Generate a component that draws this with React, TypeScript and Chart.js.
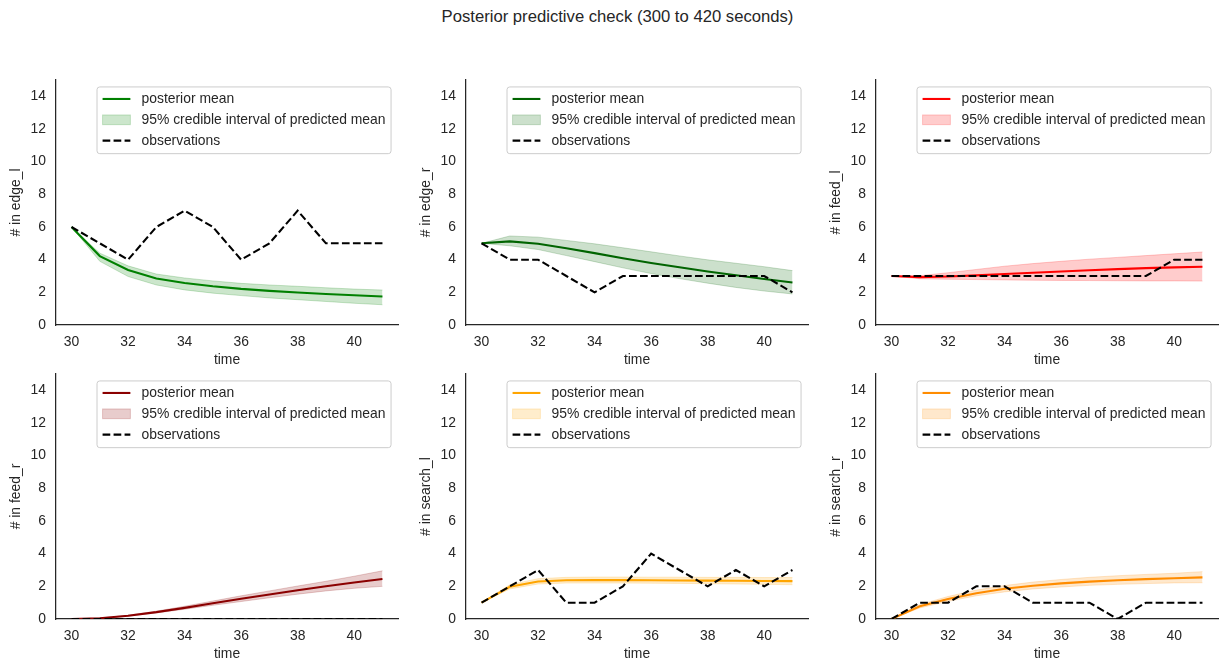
import React, { useEffect, useRef } from "react";
import { Chart, registerables } from "chart.js";
Chart.register(...registerables);

const TITLE = "Posterior predictive check (300 to 420 seconds)";
const TIME = [30, 31, 32, 33, 34, 35, 36, 37, 38, 39, 40, 41];
const X_TICKS = [30, 32, 34, 36, 38, 40];
const Y_TICKS = [0, 2, 4, 6, 8, 10, 12, 14];
const LEGEND_LABELS = ["posterior mean", "95% credible interval of predicted mean", "observations"];

const EDGE_L_OBS = [6, 5, 4, 6, 7, 6, 4, 5, 7, 5, 5, 5];
const EDGE_L_MEAN = [6, 4.22, 3.37, 2.85, 2.57, 2.37, 2.21, 2.09, 1.99, 1.9, 1.82, 1.74];
const EDGE_L_LOW = [6, 3.9, 2.97, 2.45, 2.15, 1.95, 1.8, 1.66, 1.55, 1.44, 1.33, 1.24];
const EDGE_L_HIGH = [6, 4.4, 3.62, 3.12, 2.88, 2.7, 2.55, 2.45, 2.37, 2.28, 2.2, 2.14];

const EDGE_R_OBS = [5, 4, 4, 3, 2, 3, 3, 3, 3, 3, 3, 2];
const EDGE_R_MEAN = [5, 5.12, 4.98, 4.7, 4.4, 4.09, 3.8, 3.53, 3.28, 3.05, 2.82, 2.6];
const EDGE_R_LOW = [5, 4.85, 4.62, 4.25, 3.88, 3.5, 3.15, 2.84, 2.56, 2.3, 2.08, 1.9];
const EDGE_R_HIGH = [5, 5.45, 5.38, 5.18, 4.97, 4.73, 4.48, 4.23, 3.99, 3.78, 3.57, 3.33];

const FEED_L_OBS = [3, 3, 3, 3, 3, 3, 3, 3, 3, 3, 4, 4];
const FEED_L_MEAN = [3, 2.93, 2.97, 3.04, 3.12, 3.2, 3.28, 3.35, 3.42, 3.48, 3.53, 3.57];
const FEED_L_LOW = [3, 2.83, 2.8, 2.78, 2.76, 2.74, 2.73, 2.72, 2.71, 2.7, 2.7, 2.69];
const FEED_L_HIGH = [3, 3.02, 3.2, 3.4, 3.6, 3.76, 3.9, 4.03, 4.14, 4.25, 4.36, 4.47];

const FEED_R_OBS = [0, 0, 0, 0, 0, 0, 0, 0, 0, 0, 0, 0];
const FEED_R_MEAN = [0, 0.05, 0.2, 0.42, 0.68, 0.96, 1.24, 1.5, 1.76, 2.0, 2.23, 2.45];
const FEED_R_LOW = [0, 0.04, 0.17, 0.37, 0.6, 0.84, 1.07, 1.3, 1.52, 1.72, 1.88, 2.0];
const FEED_R_HIGH = [0, 0.06, 0.23, 0.48, 0.78, 1.1, 1.42, 1.72, 2.02, 2.31, 2.62, 2.95];

const SEARCH_L_OBS = [1, 2, 3, 1, 1, 2, 4, 3, 2, 3, 2, 3];
const SEARCH_L_MEAN = [1, 1.97, 2.3, 2.37, 2.38, 2.38, 2.37, 2.36, 2.35, 2.34, 2.33, 2.32];
const SEARCH_L_LOW = [1, 1.84, 2.14, 2.2, 2.2, 2.2, 2.19, 2.18, 2.16, 2.14, 2.12, 2.1];
const SEARCH_L_HIGH = [1, 2.1, 2.47, 2.55, 2.57, 2.57, 2.56, 2.56, 2.55, 2.55, 2.54, 2.54];

const SEARCH_R_OBS = [0, 1, 1, 2, 2, 1, 1, 1, 0, 1, 1, 1];
const SEARCH_R_MEAN = [0, 0.78, 1.22, 1.58, 1.85, 2.04, 2.18, 2.29, 2.37, 2.44, 2.5, 2.55];
const SEARCH_R_LOW = [0, 0.68, 1.08, 1.42, 1.66, 1.84, 1.96, 2.06, 2.12, 2.17, 2.21, 2.22];
const SEARCH_R_HIGH = [0, 0.88, 1.38, 1.77, 2.05, 2.26, 2.42, 2.55, 2.65, 2.73, 2.8, 2.9];

type Panel = {
  label: string;
  color: [number, number, number];
  obs: number[];
  mean: number[];
  low: number[];
  high: number[];
};

const PANELS: Panel[] = [
  { label: "# in edge_l", color: [0, 128, 0], obs: EDGE_L_OBS, mean: EDGE_L_MEAN, low: EDGE_L_LOW, high: EDGE_L_HIGH },
  { label: "# in edge_r", color: [0, 100, 0], obs: EDGE_R_OBS, mean: EDGE_R_MEAN, low: EDGE_R_LOW, high: EDGE_R_HIGH },
  { label: "# in feed_l", color: [255, 0, 0], obs: FEED_L_OBS, mean: FEED_L_MEAN, low: FEED_L_LOW, high: FEED_L_HIGH },
  { label: "# in feed_r", color: [139, 0, 0], obs: FEED_R_OBS, mean: FEED_R_MEAN, low: FEED_R_LOW, high: FEED_R_HIGH },
  { label: "# in search_l", color: [255, 165, 0], obs: SEARCH_L_OBS, mean: SEARCH_L_MEAN, low: SEARCH_L_LOW, high: SEARCH_L_HIGH },
  { label: "# in search_r", color: [255, 140, 0], obs: SEARCH_R_OBS, mean: SEARCH_R_MEAN, low: SEARCH_R_LOW, high: SEARCH_R_HIGH },
];

const FONT_FAMILY = '"Liberation Sans", Arial, sans-serif';
const FS = 13.9;
const TEXT = "#262626";
const COL_X = [56, 466, 876];
const ROW_Y = [80, 374];
const AX_W = 342;
const AX_H = 245;
const Y_AXIS_W = 56;
const X_AXIS_H = 45;
const PAD_T = 10;
const PAD_R = 10;

const rgba = (c: number[], a: number) => `rgba(${c[0]},${c[1]},${c[2]},${a})`;
const pts = (ys: number[]) => TIME.map((t, i) => ({ x: t, y: ys[i] }));

const legendPlugin = {
  id: "mplLegend",
  afterDraw(chart: any, _args: any, opts: any) {
    const ctx = chart.ctx as CanvasRenderingContext2D;
    const area = chart.chartArea;
    const color = opts.color as number[];
    ctx.save();
    ctx.font = `${FS}px ${FONT_FAMILY}`;
    const textW = Math.max(...LEGEND_LABELS.map((l) => ctx.measureText(l).width));
    const pad = 0.4 * FS;
    const hl = 2 * FS;
    const htp = 0.8 * FS;
    const rowH = FS;
    const ls = 0.5 * FS;
    const w = pad + hl + htp + textW + pad;
    const h = 2 * pad + 3 * rowH + 2 * ls;
    const x0 = area.right - 0.5 * FS - w;
    const y0 = area.top + 0.5 * FS;
    const r = 0.2 * FS;
    ctx.beginPath();
    ctx.moveTo(x0 + r, y0);
    ctx.lineTo(x0 + w - r, y0);
    ctx.arcTo(x0 + w, y0, x0 + w, y0 + r, r);
    ctx.lineTo(x0 + w, y0 + h - r);
    ctx.arcTo(x0 + w, y0 + h, x0 + w - r, y0 + h, r);
    ctx.lineTo(x0 + r, y0 + h);
    ctx.arcTo(x0, y0 + h, x0, y0 + h - r, r);
    ctx.lineTo(x0, y0 + r);
    ctx.arcTo(x0, y0, x0 + r, y0, r);
    ctx.closePath();
    ctx.fillStyle = "rgba(255,255,255,0.8)";
    ctx.fill();
    ctx.strokeStyle = "#cccccc";
    ctx.lineWidth = 1;
    ctx.stroke();
    const hx = x0 + pad;
    const tx = hx + hl + htp;
    LEGEND_LABELS.forEach((label, i) => {
      const cy = y0 + pad + rowH / 2 + i * (rowH + ls) - 0.5;
      if (i === 0) {
        ctx.beginPath();
        ctx.setLineDash([]);
        ctx.strokeStyle = rgba(color, 1);
        ctx.lineWidth = 2.08;
        ctx.moveTo(hx, cy);
        ctx.lineTo(hx + hl, cy);
        ctx.stroke();
      } else if (i === 1) {
        ctx.setLineDash([]);
        ctx.fillStyle = rgba(color, 0.2);
        ctx.fillRect(hx, cy - 0.35 * FS, hl, 0.7 * FS);
        ctx.strokeStyle = rgba(color, 0.2);
        ctx.lineWidth = 1;
        ctx.strokeRect(hx, cy - 0.35 * FS, hl, 0.7 * FS);
      } else {
        ctx.beginPath();
        ctx.setLineDash([7.7, 3.3]);
        ctx.strokeStyle = "#000000";
        ctx.lineWidth = 2.08;
        ctx.moveTo(hx, cy);
        ctx.lineTo(hx + hl, cy);
        ctx.stroke();
        ctx.setLineDash([]);
      }
      ctx.fillStyle = TEXT;
      ctx.textBaseline = "middle";
      ctx.textAlign = "left";
      ctx.fillText(label, tx, cy + 0.5);
    });
    ctx.restore();
  },
};

function PanelChart({ panel, left, top }: { panel: Panel; left: number; top: number }) {
  const ref = useRef<HTMLCanvasElement | null>(null);
  useEffect(() => {
    if (!ref.current) return;
    const font = { family: FONT_FAMILY, size: FS };
    const chart = new Chart(ref.current, {
      type: "line",
      data: {
        datasets: [
          {
            label: "observations",
            data: pts(panel.obs),
            borderColor: "#000000",
            borderWidth: 2.08,
            borderDash: [7.7, 3.3],
            pointRadius: 0,
            tension: 0,
            fill: false,
            order: 0,
          },
          {
            label: "posterior mean",
            data: pts(panel.mean),
            borderColor: rgba(panel.color, 1),
            borderWidth: 2.08,
            pointRadius: 0,
            tension: 0,
            fill: false,
            order: 1,
          },
          {
            label: "low",
            data: pts(panel.low),
            borderColor: rgba(panel.color, 0.2),
            borderWidth: 1,
            pointRadius: 0,
            tension: 0,
            fill: false,
            order: 2,
          },
          {
            label: "95% credible interval of predicted mean",
            data: pts(panel.high),
            borderColor: rgba(panel.color, 0.2),
            backgroundColor: rgba(panel.color, 0.2),
            borderWidth: 1,
            pointRadius: 0,
            tension: 0,
            fill: "-1",
            order: 2,
          },
        ],
      },
      options: {
        animation: false,
        responsive: false,
        maintainAspectRatio: false,
        events: [],
        layout: { padding: { top: PAD_T, right: PAD_R, left: 0, bottom: 0 } },
        plugins: {
          legend: { display: false },
          tooltip: { enabled: false },
          title: { display: false },
          mplLegend: { color: panel.color },
        } as any,
        scales: {
          x: {
            type: "linear",
            min: 29.45,
            max: 41.55,
            grid: { display: false, drawTicks: false },
            border: { display: true, color: TEXT, width: 1.25 },
            ticks: { font, color: TEXT, padding: 9, maxRotation: 0 },
            afterBuildTicks: (s: any) => {
              s.ticks = X_TICKS.map((v) => ({ value: v }));
            },
            afterFit: (s: any) => {
              s.height = X_AXIS_H;
              s.paddingLeft = 0;
              s.paddingRight = 0;
              s.paddingTop = 0;
              s.paddingBottom = 0;
            },
            title: { display: true, text: "time", font, color: TEXT, padding: { top: 0, bottom: 1 } },
          },
          y: {
            type: "linear",
            min: 0,
            max: 15,
            grid: { display: false, drawTicks: false },
            border: { display: true, color: TEXT, width: 1.25 },
            ticks: { font, color: TEXT, padding: 10 },
            afterBuildTicks: (s: any) => {
              s.ticks = Y_TICKS.map((v) => ({ value: v }));
            },
            afterFit: (s: any) => {
              s.width = Y_AXIS_W;
              s.paddingLeft = 0;
              s.paddingRight = 0;
              s.paddingTop = 0;
              s.paddingBottom = 0;
            },
            title: { display: true, text: panel.label, font, color: TEXT, padding: { top: 8, bottom: 0 } },
          },
        },
      } as any,
      plugins: [legendPlugin as any],
    });
    return () => chart.destroy();
  }, [panel]);
  const w = Y_AXIS_W + AX_W + PAD_R;
  const h = PAD_T + AX_H + X_AXIS_H;
  return (
    <canvas
      ref={ref}
      width={w}
      height={h}
      style={{ position: "absolute", left, top, width: w, height: h }}
    />
  );
}

export default function App() {
  return (
    <div
      style={{
        position: "absolute",
        left: 0,
        top: 0,
        width: 1227,
        height: 672,
        background: "#ffffff",
        overflow: "hidden",
      }}
    >
      <div
        style={{
          position: "absolute",
          left: 0,
          width: 1235,
          top: 8,
          textAlign: "center",
          fontFamily: FONT_FAMILY,
          fontSize: 16.67,
          lineHeight: "18px",
          color: TEXT,
        }}
      >
        {TITLE}
      </div>
      {PANELS.map((p, i) => (
        <PanelChart
          key={i}
          panel={p}
          left={COL_X[i % 3] - Y_AXIS_W}
          top={ROW_Y[Math.floor(i / 3)] - PAD_T}
        />
      ))}
    </div>
  );
}
